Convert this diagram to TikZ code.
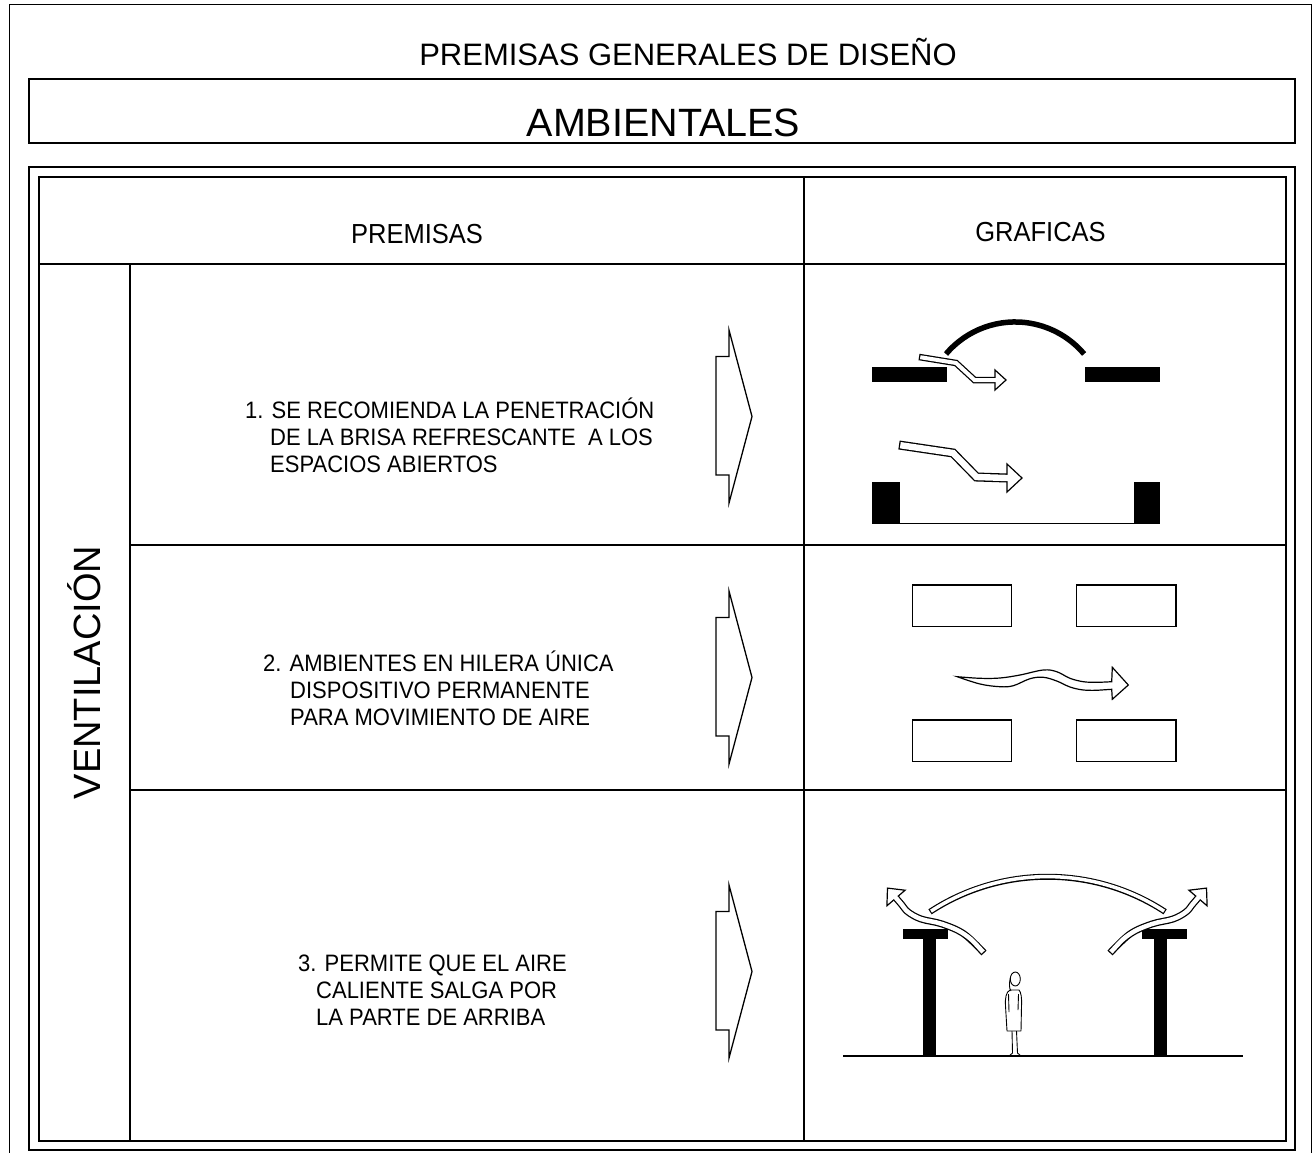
\documentclass[tikz,border=0pt]{standalone}
\usepackage{fontspec}
\setmainfont{Liberation Sans}

\tikzset{
  tableframe/.style={line width=1.6pt},
  cellline/.style={line width=1.2pt},
  premise/.style={anchor=base west, inner sep=0pt, font=\fontsize{22}{26}\selectfont},
  heading/.style={anchor=base, inner sep=0pt, font=\fontsize{25.5}{30}\selectfont},
  room/.style={line width=1.4pt},
  figure/.style={line width=0.9pt, line join=round},
}

% slightly taller lettering
\newcommand\tall[1]{\scalebox{1}[1.08]{#1}}

% hollow air arrow: #1 shaft, #2 point inside the head, #3 outer width, #4 inner width, #5 head
\newcommand\airflow[5]{%
  \draw[line width=#3, line join=miter] #1;
  \draw[fill=white, line width=1.2pt, line join=miter] #5 -- cycle;
  \draw[white, line width=#4, line join=miter, shorten <=1.3pt] #1 -- #2;
}

\begin{document}
\begin{tikzpicture}[x=1pt, y=-1pt]
  \useasboundingbox (0,0) rectangle (1314,1153);

  % sheet border and title
  \draw[line width=1pt] (9,1160) -- (9,5) -- (1311,5) -- (1311,1160);
  \node[anchor=base, inner sep=0pt, font=\fontsize{31}{36}\selectfont] (title) at (688,66) {PREMISAS GENERALES DE DISEÑO};
  \draw[tableframe] (29,79) rectangle (1295,143);
  \node[anchor=base, inner sep=0pt, font=\fontsize{39.5}{45}\selectfont] (ambient) at (663.5,136) {AMBIENTALES};

  % the table
  \draw[tableframe] (29,167) rectangle (1295,1150);
  \draw[tableframe] (39,177) rectangle (1286,1141);
  \draw[cellline] (39,264) -- (1286,264);
  \draw[cellline] (804,177) -- (804,1141);
  \draw[cellline] (130,264) -- (130,1141);
  \draw[cellline] (130,545) -- (1286,545);
  \draw[cellline] (130,790) -- (1286,790);

  \node[heading] (premisas) at (417,243.5) {\tall{PREMISAS}};
  \node[heading] (graficas) at (1040.5,241) {\tall{GRAFICAS}};
  \node[anchor=base, inner sep=0pt, rotate=90, font=\fontsize{38}{44}\selectfont] (vent) at (100,672.5) {VENTILACIÓN};

  % premises text
  \node[premise] (p1a) at (245,418) {\tall{1. SE RECOMIENDA LA PENETRACIÓN}};
  \node[premise] (p1b) at (270,445) {\tall{DE LA BRISA REFRESCANTE\ \ A LOS}};
  \node[premise] (p1c) at (270,472) {\tall{ESPACIOS ABIERTOS}};

  \node[premise] (p2a) at (263,671) {\tall{2. AMBIENTES EN HILERA ÚNICA}};
  \node[premise] (p2b) at (290,698) {\tall{DISPOSITIVO PERMANENTE}};
  \node[premise] (p2c) at (290,725) {\tall{PARA MOVIMIENTO DE AIRE}};

  \node[premise] (p3a) at (298,971) {\tall{3. PERMITE QUE EL AIRE}};
  \node[premise] (p3b) at (316,998) {\tall{CALIENTE SALGA POR}};
  \node[premise] (p3c) at (316,1025) {\tall{LA PARTE DE ARRIBA}};

  % block arrows between the columns
  \foreach \cy in {416.5,677.5,971.5}
    \draw[line width=1.3pt] (729,{\cy-86.5}) -- (729,{\cy-60}) -- (716,{\cy-60}) -- (716,{\cy+58.5})
      -- (729,{\cy+58.5}) -- (729,{\cy+86.5}) -- (752,\cy) -- cycle;

  % row 1: roof opening and walls
  \fill (871.5,366.5) rectangle (947,381.5);
  \fill (1085,366.5) rectangle (1160,381.5);
  \draw[line width=5.5pt] (946,354) arc[start angle=139.8, end angle=40.2, radius=90.4pt];
  \airflow{(919,357) -- (956,363) -- (974.5,380) -- (995,380)}{(997,380)}{6.5pt}{4pt}
    {(995,370) -- (1006,380) -- (995,390)}

  \fill (871.5,482) rectangle (899.5,524);
  \fill (1133.5,482) rectangle (1160,524);
  \draw[line width=1.5pt] (899,523.3) -- (1134,523.3);
  \airflow{(899,445) -- (953,453) -- (976.5,477) -- (1007,478)}{(1009,478)}{9pt}{6.4pt}
    {(1007,464) -- (1022,478) -- (1007,492)}

  % row 2: rooms in a single row
  \draw[room] (912.5,585) rectangle (1011.5,626.5);
  \draw[room] (1076.5,585) rectangle (1176,626.5);
  \draw[room] (912.5,720) rectangle (1011.5,761.5);
  \draw[room] (1076.5,720) rectangle (1176,761.5);
  \draw[line width=1.2pt, fill=white, line join=miter]
    plot[smooth, tension=0.6] coordinates {(957.3,676.7) (980,678.3) (1000,678) (1020,675) (1043.3,670)
      (1056.7,671.7) (1070,678.3) (1083.3,681.7) (1096.7,682.3) (1111.7,681.7)}
    -- (1112.3,667.3) -- (1128.3,685) -- (1112.3,699.3) -- (1111.7,689.3)
    -- plot[smooth, tension=0.6] coordinates {(1096.7,690.3) (1083.3,690) (1070,687) (1056.7,681)
      (1043.3,677.3) (1030,678.7) (1013.3,685.7) (1000,686.7) (980,684) (957.3,676.7)}
    -- cycle;

  % row 3: open roof on two columns
  \draw[line width=1.7pt] (843,1056) -- (1243,1056);
  \fill (902.5,929.3) rectangle (947.5,939.3);
  \fill (923.3,939.3) rectangle (936,1056);
  \fill (1141.7,929.3) rectangle (1186.7,939.3);
  \fill (1154.3,939.3) rectangle (1166.7,1056);

  \draw[line width=6pt] (930,911.8) arc[start angle=123.2, end angle=56.8, radius=214.7pt];
  \draw[white, line width=3.5pt, shorten <=1.2pt, shorten >=1.2pt]
    (930,911.8) arc[start angle=123.2, end angle=56.8, radius=214.7pt];

  \airflow{plot[smooth, tension=0.6] coordinates {(984,953) (964,934) (942,924) (921,919) (908,912) (902,905) (896,898)}}
    {(894.7,896.5)}{7pt}{4.5pt}{(905.1,890.2) -- (887.5,888.1) -- (886.9,905.8)}
  \begin{scope}[shift={(2094,0)}, xscale=-1]
    \airflow{plot[smooth, tension=0.6] coordinates {(984,953) (964,934) (942,924) (921,919) (908,912) (902,905) (896,898)}}
      {(894.7,896.5)}{7pt}{4.5pt}{(905.1,890.2) -- (887.5,888.1) -- (886.9,905.8)}
  \end{scope}

  % standing person
  \draw[figure, fill=white] (1010,990) .. controls (1006,992) and (1005,998) .. (1005.5,1006)
    -- (1007,1031) -- (1021,1031) -- (1021.5,1006) .. controls (1022,998) and (1021,992) .. (1019,990) -- cycle;
  \draw[figure, fill=white] (1015.3,979) ellipse [x radius=5pt, y radius=7pt];
  \draw[figure] (1010.5,977) .. controls (1009,984) and (1009,988) .. (1011,991);
  \draw[figure] (1008.5,994) -- (1009,1012);
  \draw[figure] (1018.5,994) -- (1018,1010);
  \draw[figure] (1012,1031) -- (1012.5,1053) -- (1009,1056);
  \draw[figure] (1016.5,1031) -- (1017.5,1053) -- (1021,1056);
\end{tikzpicture}
\end{document}
